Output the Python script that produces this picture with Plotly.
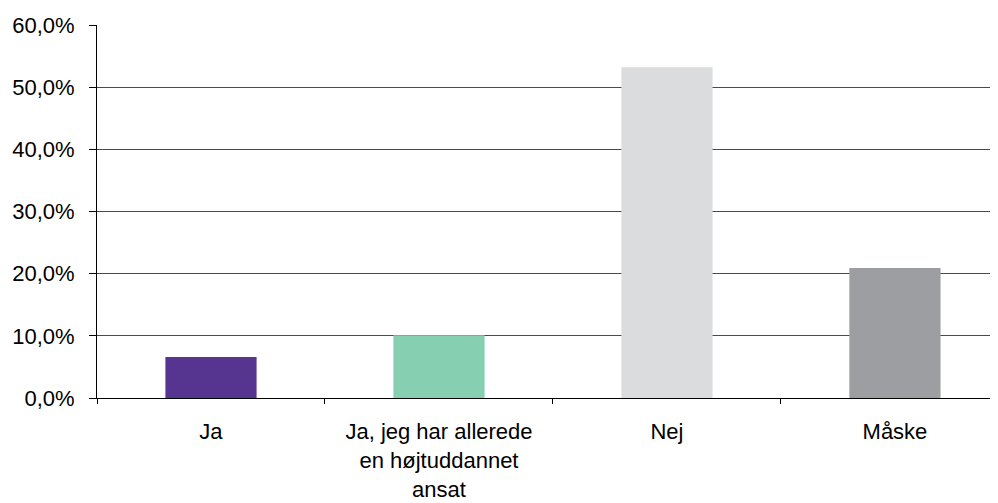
import plotly.graph_objects as go

categories = ["Ja", "Ja, jeg har allerede<br>en højtuddannet<br>ansat", "Nej", "Måske"]
values = [6.6, 10.1, 53.2, 20.9]
colors = ["#563590", "#86cfb0", "#dbdcde", "#9d9ea1"]
y_ticks = [0, 10, 20, 30, 40, 50, 60]
y_tick_labels = ["0,0%", "10,0%", "20,0%", "30,0%", "40,0%", "50,0%", "60,0%"]

fig = go.Figure(go.Bar(x=categories, y=values, marker_color=colors, width=0.4,
                       marker_line_width=0))

FONT = dict(family="Liberation Sans, Arial, sans-serif", size=22, color="#000000")

fig.update_layout(
    width=998, height=503,
    margin=dict(l=89, r=8, t=17, b=113, autoexpand=False),
    paper_bgcolor="white", plot_bgcolor="white",
    font=FONT, showlegend=False,
    bargap=0.6,
)
fig.update_xaxes(
    range=[-0.5, 3.452], showline=True, linecolor="#000000", linewidth=1,
    ticks="outside", tickson="boundaries", ticklen=5, tickcolor="#000000",
    showgrid=False, tickfont=FONT, ticklabelstandoff=14, automargin=False,
)
fig.update_yaxes(
    range=[0, 60], tickvals=y_ticks, ticktext=y_tick_labels,
    showline=True, linecolor="#000000", linewidth=1,
    ticks="outside", ticklen=7, tickcolor="#000000",
    showgrid=True, gridcolor="#4a4a4a", gridwidth=1, zeroline=False,
    tickfont=FONT, ticklabelstandoff=10, automargin=False,
)
fig.write_html("out.html")
